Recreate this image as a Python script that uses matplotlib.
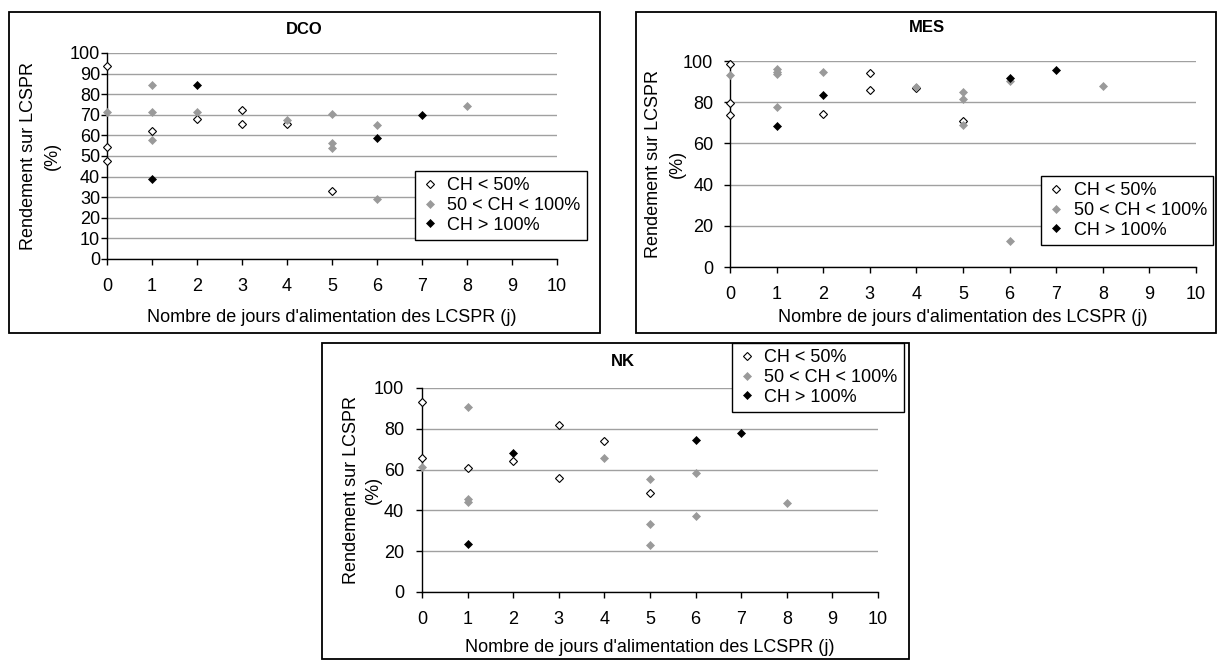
import matplotlib
matplotlib.use("Agg")
import matplotlib.pyplot as plt
from matplotlib.patches import Rectangle

plt.rcParams['font.family'] = ['Liberation Sans', 'DejaVu Sans']

W, H = 1218, 660

# ---------------- data ----------------
series_labels = ["CH < 50%", "50 < CH < 100%", "CH > 100%"]
xlabel = "Nombre de jours d'alimentation des LCSPR (j)"
ylabel_l1 = "Rendement sur LCSPR"
ylabel_l2 = "(%)"
x_ticks = [0, 1, 2, 3, 4, 5, 6, 7, 8, 9, 10]

# DCO
dco_low_x = [0, 0, 0, 1, 2, 3, 3, 4, 5]
dco_low_y = [93.9, 54.4, 47.4, 62.0, 68.0, 72.2, 65.7, 65.5, 33.0]
dco_mid_x = [0, 1, 1, 1, 2, 4, 5, 5, 5, 6, 6, 8]
dco_mid_y = [71.2, 84.3, 71.2, 57.6, 71.2, 67.6, 70.6, 56.3, 53.9, 65.2, 29.3, 74.4]
dco_high_x = [1, 2, 6, 7]
dco_high_y = [39.0, 84.3, 58.6, 69.7]

# MES
mes_low_x = [0, 0, 0, 2, 3, 3, 4, 5]
mes_low_y = [98.7, 79.6, 73.8, 74.3, 94.3, 85.9, 87.0, 70.7]
mes_mid_x = [0, 1, 1, 1, 1, 2, 4, 5, 5, 5, 6, 6, 8]
mes_mid_y = [93.4, 96.1, 94.8, 93.7, 77.5, 94.8, 87.4, 84.8, 81.7, 69.1, 90.5, 12.8, 87.9]
mes_high_x = [1, 2, 6, 7]
mes_high_y = [68.6, 83.3, 91.6, 95.6]

# NK
nk_low_x = [0, 0, 1, 2, 3, 3, 4, 5]
nk_low_y = [93.3, 65.6, 61.0, 64.3, 81.9, 55.8, 73.8, 48.7]
nk_mid_x = [0, 1, 1, 1, 4, 5, 5, 5, 6, 6, 8]
nk_mid_y = [61.3, 90.8, 45.7, 43.9, 65.8, 55.4, 33.1, 23.2, 58.2, 37.3, 43.5]
nk_high_x = [1, 2, 6, 7]
nk_high_y = [23.7, 68.3, 74.7, 78.1]

GRAY = "#9a9a9a"
GRID = "#a0a0a0"
FS = 13

fig = plt.figure(figsize=(W / 100, H / 100), dpi=100)
fig.patch.set_facecolor("white")


def frect(x0, y0, x1, y1):
    return [x0 / W, 1 - y1 / H, (x1 - x0) / W, (y1 - y0) / H]


def frame(x0, y0, x1, y1):
    fig.patches.append(Rectangle((x0 / W, 1 - y1 / H), (x1 - x0) / W, (y1 - y0) / H,
                                 transform=fig.transFigure, fill=False,
                                 edgecolor="black", linewidth=1.3, zorder=0))


def panel(box, frm, title, title_xy, yticks, ypad, lowx, lowy, midx, midy, highx, highy,
          leg_xy, ylab_x, xlab_y):
    frame(*frm)
    ax = fig.add_axes(frect(*box))
    ax.set_xlim(0, 10)
    ax.set_ylim(0, 100)
    ax.set_xticks(x_ticks)
    ax.set_yticks(yticks)
    ax.tick_params(axis="x", direction="out", length=4, width=1, pad=9.5, labelsize=FS)
    ax.tick_params(axis="y", direction="out", length=4, width=1, pad=ypad, labelsize=FS)
    for s in ("top", "right"):
        ax.spines[s].set_visible(False)
    for s in ("left", "bottom"):
        ax.spines[s].set_linewidth(1.0)
        ax.spines[s].set_color("black")
    ax.yaxis.grid(True, color=GRID, linewidth=1.0)
    ax.set_axisbelow(True)
    ms = 3.6
    ax.plot(lowx, lowy, linestyle="none", marker="D", markersize=ms,
            markerfacecolor="white", markeredgecolor="black", markeredgewidth=0.8,
            label=series_labels[0], clip_on=False, zorder=3)
    ax.plot(midx, midy, linestyle="none", marker="D", markersize=ms,
            markerfacecolor=GRAY, markeredgecolor=GRAY, markeredgewidth=0.5,
            label=series_labels[1], clip_on=False, zorder=3)
    ax.plot(highx, highy, linestyle="none", marker="D", markersize=ms,
            markerfacecolor="black", markeredgecolor="black", markeredgewidth=0.5,
            label=series_labels[2], clip_on=False, zorder=3)
    fig.text(title_xy[0] / W, 1 - title_xy[1] / H, title, ha="center", va="center",
             fontsize=12, fontweight="bold")
    cx = (box[0] + box[2]) / 2
    fig.text(cx / W, 1 - xlab_y / H, xlabel, ha="center", va="center", fontsize=FS)
    cy = (box[1] + box[3]) / 2
    fig.text(ylab_x[0] / W, 1 - cy / H, ylabel_l1, rotation=90, ha="center", va="center",
             fontsize=FS)
    fig.text(ylab_x[1] / W, 1 - cy / H, ylabel_l2, rotation=90, ha="center", va="center",
             fontsize=FS)
    leg = ax.legend(loc="upper left", bbox_to_anchor=(leg_xy[0] / W, 1 - leg_xy[1] / H),
                    bbox_transform=fig.transFigure, borderaxespad=0, fancybox=False,
                    framealpha=1, edgecolor="black", fontsize=FS, handlelength=1.0,
                    handletextpad=0.45, labelspacing=0.15, borderpad=0.35,
                    markerscale=1.0)
    leg.get_frame().set_linewidth(1.0)
    leg.set_zorder(5)
    return ax


panel((107, 53, 557, 259), (9, 12, 600, 333), "DCO", (304, 29),
      list(range(0, 101, 10)), 1,
      dco_low_x, dco_low_y, dco_mid_x, dco_mid_y, dco_high_x, dco_high_y,
      (415, 171), (29, 52), 318)

panel((730, 61, 1196, 267), (636, 12, 1216, 333), "MES", (927, 28),
      list(range(0, 101, 20)), 8,
      mes_low_x, mes_low_y, mes_mid_x, mes_mid_y, mes_high_x, mes_high_y,
      (1041, 176), (653, 677), 318)

panel((422, 388, 878, 592), (322, 343, 909, 659), "NK", (623, 361),
      list(range(0, 101, 20)), 9,
      nk_low_x, nk_low_y, nk_mid_x, nk_mid_y, nk_high_x, nk_high_y,
      (732, 343), (352, 373), 648)

fig.savefig("out.png", dpi=100, facecolor="white")
